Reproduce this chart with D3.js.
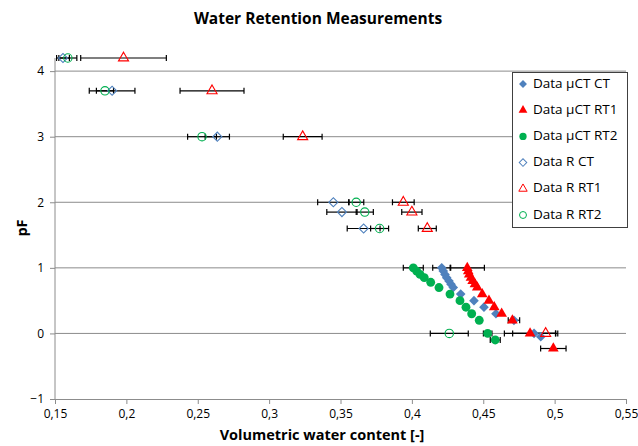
<!DOCTYPE html>
<html>
<head>
<meta charset="utf-8">
<script src="https://cdn.jsdelivr.net/npm/d3@7"></script>
<style>
  body { margin: 0; background: #fff; }
  text { font-family: "Open Sans", "Noto Sans", sans-serif; fill: #000; }
  .tick-lbl { font-size: 12px; }
  .titulo { font-size: 15.5px; font-weight: bold; }
  .eje { font-size: 14.5px; font-weight: bold; }
  .leyenda { font-size: 13.5px; }
</style>
</head>
<body>
<svg id="chart" width="638" height="446"></svg>
<script>
// datos R (marcadores abiertos, con barras de error)
const rCT_x = [0.1556, 0.19, 0.2637, 0.345, 0.351, 0.3662];
const rCT_pf = [4.2, 3.7, 3.0, 2.0, 1.85, 1.6];
const rCT_err = [0.0045, 0.016, 0.0085, 0.011, 0.0106, 0.0115];

const rRT1_x = [0.198, 0.26, 0.3235, 0.394, 0.4, 0.4108, 0.4937];
const rRT1_pf = [4.2, 3.7, 3.0, 2.0, 1.85, 1.6, 0];
const rRT1_err = [0.03, 0.0224, 0.0136, 0.0076, 0.0071, 0.0063, 0.0085];

const rRT2_x = [0.159, 0.185, 0.253, 0.361, 0.367, 0.3774, 0.4262];
const rRT2_pf = [4.2, 3.7, 3.0, 2.0, 1.85, 1.6, 0];
const rRT2_err = [0.0063, 0.006, 0.0101, 0.0053, 0.006, 0.0063, 0.0133];

// datos uCT (marcadores llenos)
const ctCT_x = [0.4209, 0.422, 0.4232, 0.4244, 0.426, 0.4274, 0.429, 0.4342, 0.4435, 0.4505, 0.4589, 0.4715, 0.4856, 0.4903];
const ctCT_pf = [1.0, 0.95, 0.9, 0.85, 0.8, 0.75, 0.7, 0.6, 0.5, 0.4, 0.3, 0.2, 0, -0.05];
const ctCT_err = [0.0063, 0, 0, 0, 0, 0, 0, 0, 0, 0, 0, 0.004, 0.015, 0];

const ctRT1_x = [0.4388, 0.4395, 0.4402, 0.4414, 0.4426, 0.4442, 0.4458, 0.4493, 0.454, 0.4577, 0.4629, 0.4704, 0.4828, 0.4991];
const ctRT1_pf = [1.0, 0.95, 0.9, 0.85, 0.8, 0.75, 0.7, 0.6, 0.5, 0.4, 0.3, 0.2, 0, -0.23];
const ctRT1_err = [0.012, 0, 0, 0, 0, 0, 0, 0, 0, 0, 0, 0, 0.018, 0.0089];

const ctRT2_x = [0.401, 0.4034, 0.4057, 0.4087, 0.4132, 0.419, 0.4267, 0.4337, 0.4379, 0.4419, 0.4472, 0.4531, 0.4584];
const ctRT2_pf = [1.0, 0.95, 0.9, 0.85, 0.78, 0.7, 0.6, 0.5, 0.4, 0.3, 0.2, 0, -0.1];
const ctRT2_err = [0.007, 0, 0, 0, 0, 0, 0, 0, 0, 0, 0, 0.003, 0.0035];

const xTicks = [0.15, 0.2, 0.25, 0.3, 0.35, 0.4, 0.45, 0.5, 0.55];
const yTicks = [-1, 0, 1, 2, 3, 4];

const azul = "#4F81BD";
const rojo = "#FF0000";
const verde = "#00B050";

const series = [
  { name: "Data \u00b5CT CT", x: ctCT_x, y: ctCT_pf, err: ctCT_err, shape: "diamond", color: azul, filled: true },
  { name: "Data \u00b5CT RT1", x: ctRT1_x, y: ctRT1_pf, err: ctRT1_err, shape: "triangle", color: rojo, filled: true },
  { name: "Data \u00b5CT RT2", x: ctRT2_x, y: ctRT2_pf, err: ctRT2_err, shape: "circle", color: verde, filled: true },
  { name: "Data R CT", x: rCT_x, y: rCT_pf, err: rCT_err, shape: "diamond", color: azul, filled: false },
  { name: "Data R RT1", x: rRT1_x, y: rRT1_pf, err: rRT1_err, shape: "triangle", color: rojo, filled: false },
  { name: "Data R RT2", x: rRT2_x, y: rRT2_pf, err: rRT2_err, shape: "circle", color: verde, filled: false },
];

const margin = { top: 58, right: 12, bottom: 47, left: 55 };
const width = 638;
const height = 446;

const svg = d3.select("#chart");

const x = d3.scaleLinear().domain([0.15, 0.55]).range([margin.left, width - margin.right]);
const y = d3.scaleLinear().domain([-1, 4.2]).range([height - margin.bottom, margin.top]);

// lineas de grilla
svg
  .append("g")
  .selectAll("line")
  .data(yTicks.filter((d) => d > -1))
  .join("line")
  .attr("x1", x(0.15))
  .attr("x2", x(0.55))
  .attr("y1", (d) => y(d))
  .attr("y2", (d) => y(d))
  .attr("stroke", "#8c8c8c")
  .attr("stroke-width", 1);

// eje x
const ejeX = svg
  .append("g")
  .attr("transform", "translate(0," + y(-1) + ")")
  .call(
    d3
      .axisBottom(x)
      .tickValues(xTicks)
      .tickSize(5)
      .tickFormat((d) => String(+d.toFixed(2)).replace(".", ","))
  );
ejeX.select(".domain").attr("stroke", "#8c8c8c");
ejeX.selectAll(".tick line").attr("stroke", "#8c8c8c");
ejeX.selectAll(".tick text").attr("class", "tick-lbl").attr("dy", "0.95em");
ejeX.attr("font-family", null).attr("font-size", null);

// eje y
const ejeY = svg
  .append("g")
  .attr("transform", "translate(" + x(0.15) + ",0)")
  .call(d3.axisLeft(y).tickValues(yTicks).tickSize(5).tickPadding(6).tickFormat(d3.format("d")));
ejeY.select(".domain").attr("stroke", "#8c8c8c").attr("d", "M0," + y(4.2) + "V" + y(-1));
ejeY.selectAll(".tick line").attr("stroke", "#8c8c8c");
ejeY.selectAll(".tick text").attr("class", "tick-lbl");
ejeY.attr("font-family", null).attr("font-size", null);

// titulos
svg
  .append("text")
  .attr("class", "titulo")
  .attr("x", 318)
  .attr("y", 24)
  .attr("text-anchor", "middle")
  .text("Water Retention Measurements");

svg
  .append("text")
  .attr("class", "eje")
  .attr("x", 322)
  .attr("y", 440)
  .attr("text-anchor", "middle")
  .text("Volumetric water content [-]");

svg
  .append("text")
  .attr("class", "eje")
  .attr("transform", "translate(27,228) rotate(-90)")
  .attr("text-anchor", "middle")
  .text("pF");

function simbolo(shape, size) {
  if (shape == "diamond") return d3.symbol(d3.symbolSquare, size * 0.75)();
  else if (shape == "triangle") return d3.symbol(d3.symbolTriangle, size * 0.8)();
  else return d3.symbol(d3.symbolCircle, size)();
}

function rotacion(shape) {
  return shape == "diamond" ? " rotate(45)" : "";
}

// barras de error
series.forEach((s) => {
  const puntos = s.x
    .map((v, i) => ({ x: v, y: s.y[i], e: s.err[i] }))
    .filter((d) => d.e > 0);
  const g = svg.append("g").attr("stroke", "#000").attr("stroke-width", 1.2);
  g.selectAll(".barra")
    .data(puntos)
    .join("line")
    .attr("x1", (d) => x(d.x - d.e))
    .attr("x2", (d) => x(d.x + d.e))
    .attr("y1", (d) => y(d.y))
    .attr("y2", (d) => y(d.y));
  g.selectAll(".capIzq")
    .data(puntos)
    .join("line")
    .attr("x1", (d) => x(d.x - d.e))
    .attr("x2", (d) => x(d.x - d.e))
    .attr("y1", (d) => y(d.y) - 3)
    .attr("y2", (d) => y(d.y) + 3);
  g.selectAll(".capDer")
    .data(puntos)
    .join("line")
    .attr("x1", (d) => x(d.x + d.e))
    .attr("x2", (d) => x(d.x + d.e))
    .attr("y1", (d) => y(d.y) - 3)
    .attr("y2", (d) => y(d.y) + 3);
});

// marcadores
series.forEach((s) => {
  const puntos = s.x.map((v, i) => ({ x: v, y: s.y[i] }));
  svg
    .append("g")
    .selectAll("path")
    .data(puntos)
    .join("path")
    .attr("d", simbolo(s.shape, s.filled ? 62 : 55))
    .attr("transform", (d) => "translate(" + x(d.x) + "," + y(d.y) + ")" + rotacion(s.shape))
    .attr("fill", s.filled ? s.color : "white")
    .attr("fill-opacity", s.filled ? 1 : 0)
    .attr("stroke", s.color)
    .attr("stroke-width", s.filled ? 0 : 1.1);
});

// leyenda
const leyenda = svg.append("g");
leyenda
  .append("rect")
  .attr("x", 512.5)
  .attr("y", 72.5)
  .attr("width", 115)
  .attr("height", 155)
  .attr("fill", "white")
  .attr("stroke", "#404040")
  .attr("stroke-width", 1);

series.forEach((s, i) => {
  const yy = 84 + i * 26.2;
  leyenda
    .append("path")
    .attr("d", simbolo(s.shape, s.filled ? 42 : 38))
    .attr("transform", "translate(523," + yy + ")" + rotacion(s.shape))
    .attr("fill", s.filled ? s.color : "none")
    .attr("stroke", s.color)
    .attr("stroke-width", s.filled ? 0 : 1);
  leyenda
    .append("text")
    .attr("class", "leyenda")
    .attr("x", 533)
    .attr("y", yy)
    .attr("dominant-baseline", "middle")
    .text(s.name);
});
</script>
</body>
</html>
